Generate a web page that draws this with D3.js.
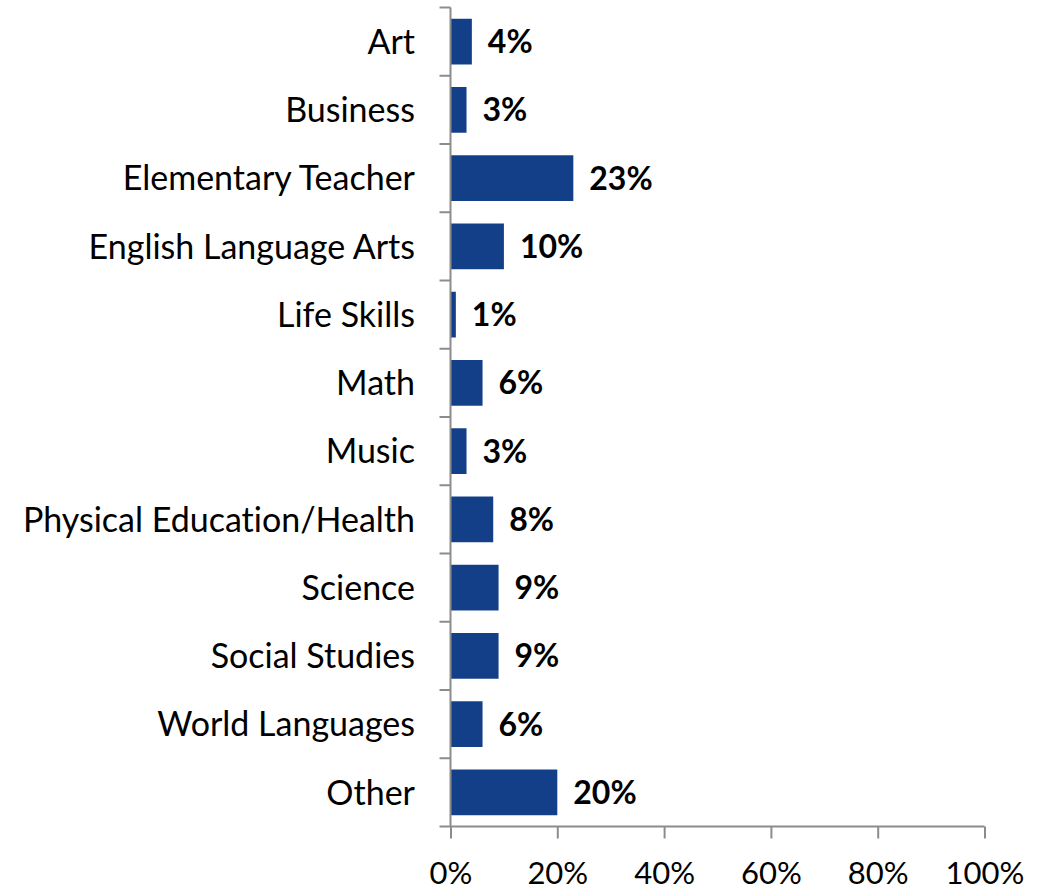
<!DOCTYPE html>
<html><head><meta charset="utf-8">
<script src="https://cdn.jsdelivr.net/npm/d3@7"></script>
<style>body{margin:0;background:#fff}svg{display:block}text{font-variant-ligatures:none;font-feature-settings:"liga" 0}</style>
</head><body>
<svg id="c" width="1051" height="891"></svg>
<script>
const categories = ["Art","Business","Elementary Teacher","English Language Arts","Life Skills","Math","Music","Physical Education/Health","Science","Social Studies","World Languages","Other"];
const values = [4,3,23,10,1,6,3,8,9,9,6,20];
const xTicks = [0,20,40,60,80,100];

(function(){
const svg = d3.select("#c");
const pLeft = 450.5, pRight = 984.5, pTop = 7.5, pBottom = 826.5;
const font = "Lato, 'Open Sans', sans-serif";
const axisColor = "#8c8c8c";
const barColor = "#133f88";

const x = d3.scaleLinear().domain([0,100]).range([pLeft,pRight]);
const y = d3.scaleBand().domain(categories).range([pTop,pBottom]).paddingInner(0.33).paddingOuter(0.165);

svg.append("g").selectAll("rect").data(categories).join("rect")
  .attr("x", x(0)).attr("y", d=>y(d))
  .attr("width", (d,i)=>x(values[i])-x(0)).attr("height", y.bandwidth())
  .attr("fill", barColor);

svg.append("g").selectAll("text").data(categories).join("text")
  .attr("x", (d,i)=>x(values[i])+16).attr("y", d=>y(d)+y.bandwidth()/2)
  .attr("dy","0.36em")
  .attr("font-family", font).attr("font-weight","bold").attr("font-size",32)
  .attr("fill","#000")
  .text((d,i)=>values[i]+"%");

const step = y.step();
const yg = svg.append("g");
yg.append("line").attr("x1",pLeft).attr("x2",pLeft).attr("y1",pTop).attr("y2",pBottom)
  .attr("stroke",axisColor).attr("stroke-width",2);
const bounds = d3.range(categories.length+1).map(i=>pTop+i*step);
yg.selectAll("line.t").data(bounds).join("line").attr("class","t")
  .attr("x1",pLeft-11).attr("x2",pLeft).attr("y1",d=>d).attr("y2",d=>d)
  .attr("stroke",axisColor).attr("stroke-width",2);

svg.append("g").selectAll("text").data(categories).join("text")
  .attr("x", 415).attr("y", d=>y(d)+y.bandwidth()/2)
  .attr("dy","0.36em").attr("text-anchor","end")
  .attr("font-family", font).attr("font-size",34).attr("fill","#000")
  .text(d=>d);

const xAxis = d3.axisBottom(x).tickValues(xTicks).tickSize(12).tickPadding(23).tickFormat(d=>d+"%");
const xg = svg.append("g").attr("transform",`translate(0,${pBottom})`).call(xAxis);
xg.select(".domain").attr("stroke",axisColor).attr("stroke-width",2)
  .attr("d", `M${pLeft},0H${pRight}`);
xg.selectAll(".tick line").attr("stroke",axisColor).attr("stroke-width",2);
xg.selectAll(".tick text").attr("font-family",font).attr("font-size",31).attr("fill","#000");
})();
</script>
</body></html>
